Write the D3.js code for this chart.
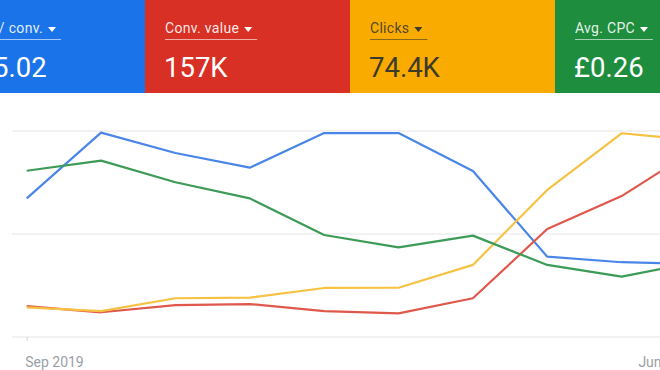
<!DOCTYPE html>
<html>
<head>
<meta charset="utf-8">
<script src="https://cdn.jsdelivr.net/npm/d3@7"></script>
<style>
  html, body { margin: 0; padding: 0; background: #fff; overflow: hidden; }
  svg { display: block; font-family: Roboto, "Noto Sans", Arial, sans-serif; }
</style>
</head>
<body>
<svg id="chart" width="660" height="370"></svg>
<script>
// ---- data ----
const months = ["Sep 2019","Oct 2019","Nov 2019","Dec 2019","Jan 2020","Feb 2020","Mar 2020","Apr 2020","May 2020","Jun 2020"];
const metricNames = ["Cost / conv.", "Conv. value", "Clicks", "Avg. CPC"];
const metricTotals = ["£5.02", "157K", "74.4K", "£0.26"];
// normalised index (0 = bottom gridline, 100 = top gridline)
const costPerConv = [67.3, 99.2, 89.3, 82.2, 99.0, 99.0, 80.6, 39.0, 36.3, 35.4];
const convValue   = [15.0, 12.0, 15.5, 16.0, 12.6, 11.5, 18.8, 52.4, 68.4, 91.3];
const clicks      = [14.4, 12.6, 18.8, 19.1, 23.8, 23.9, 35.0, 71.4, 98.9, 95.6];
const avgCpc      = [80.7, 85.6, 75.1, 67.3, 49.5, 43.5, 49.2, 35.0, 29.3, 36.3];
const gridTicks = [0, 50, 100];

const cardColors = ["#1a73e8", "#d93025", "#f9ab00", "#1e8e3e"];
const cardText   = ["#ffffff", "#ffffff", "#3c3a2a", "#ffffff"];
const lineColors = ["#4a86e8", "#e0574b", "#f5c242", "#3d9b58"];
const seriesData = [costPerConv, convValue, clicks, avgCpc];

const svg = d3.select("#chart");

// ---- metric cards ----
const cardW = 205, cardH = 93, firstCardX = -60;
const labelDx = [5, 0, 0, 0];
const valueDx = [18, 0, 0, 0];
const cards = svg.selectAll("g.card").data(metricNames).join("g")
  .attr("class", "card")
  .attr("transform", (d, i) => `translate(${firstCardX + i * cardW},0)`);
cards.append("rect").attr("width", cardW).attr("height", cardH)
  .attr("fill", (d, i) => cardColors[i]);
cards.each(function(d, i) {
  const g = d3.select(this);
  const lx = 20 + labelDx[i];
  const lbl = g.append("text").attr("x", lx).attr("y", 33)
    .attr("font-size", 14).attr("letter-spacing", 0.3)
    .attr("fill", cardText[i]).attr("fill-opacity", 0.9)
    .text(d);
  const w = lbl.node().getComputedTextLength();
  g.append("path")
    .attr("d", `M${lx + w + 5},27 l8,0 l-4,5 z`)
    .attr("fill", cardText[i]);
  g.append("line").attr("x1", lx).attr("x2", lx + w + 18)
    .attr("y1", 39.5).attr("y2", 39.5)
    .attr("stroke", cardText[i]).attr("stroke-opacity", 0.6).attr("stroke-width", 1);
  g.append("text").attr("x", 19 + valueDx[i]).attr("y", 77)
    .attr("font-size", 27.5).attr("fill", cardText[i])
    .text(metricTotals[i]);
});

// ---- scales ----
const x = d3.scaleLinear().domain([0, months.length - 1]).range([26.7, 696]);
const y = d3.scaleLinear().domain([0, 100]).range([337, 131]);

// gridlines
svg.append("g").selectAll("line").data(gridTicks).join("line")
  .attr("x1", 12).attr("x2", 700)
  .attr("y1", d => y(d)).attr("y2", d => y(d))
  .attr("stroke", "#e6e6e6").attr("stroke-width", 1.2);

// x axis (first / last labels only, as in the reference)
const xAxis = d3.axisBottom(x).tickValues([0, months.length - 1])
  .tickFormat(i => months[i]).tickSize(4).tickPadding(16);
const ax = svg.append("g").attr("transform", `translate(0,${y(0)})`).call(xAxis);
ax.select(".domain").remove();
ax.selectAll(".tick line").attr("stroke", "#d5d5d5");
ax.selectAll(".tick text").attr("font-size", 14).attr("fill", "#9aa0a6")
  .attr("font-family", "Roboto, sans-serif")
  .attr("text-anchor", (d, i) => i === 0 ? "start" : "end")
  .attr("dx", (d, i) => i === 0 ? -2 : 0);

// lines
const line = d3.line().x((d, i) => x(i)).y(d => y(d));
svg.append("g").selectAll("path").data(seriesData).join("path")
  .attr("d", line)
  .attr("fill", "none")
  .attr("stroke", (d, i) => lineColors[i])
  .attr("stroke-width", 2.2)
  .attr("stroke-linejoin", "round");
</script>
</body>
</html>
